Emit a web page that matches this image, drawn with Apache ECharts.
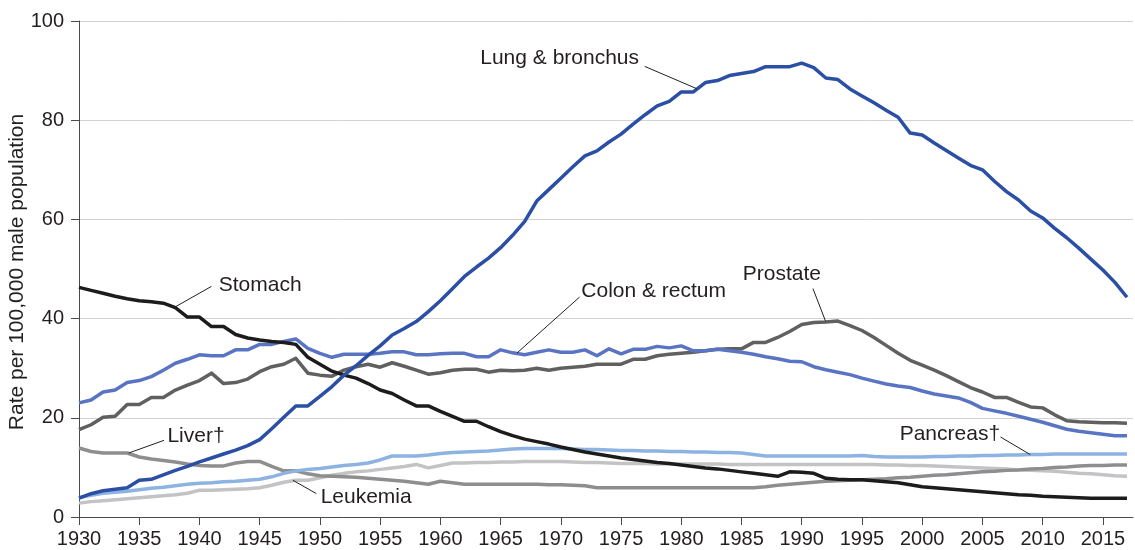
<!DOCTYPE html>
<html>
<head>
<meta charset="utf-8">
<title>Cancer death rates, males</title>
<script src="https://cdn.jsdelivr.net/npm/echarts@6.0.0/dist/echarts.min.js"></script>
<style>
  html, body { margin: 0; padding: 0; background: #fff; }
  #container { width: 1135px; height: 550px; }
</style>
</head>
<body>
<div id="container"></div>
<script>
// years 1930 - 2017
var years = [];
for (var y = 1930; y <= 2017; y++) years.push(y);

var xTicks = [1930, 1935, 1940, 1945, 1950, 1955, 1960, 1965, 1970, 1975, 1980, 1985, 1990, 1995, 2000, 2005, 2010, 2015];
var yTicks = [0, 20, 40, 60, 80, 100];

var lung = [
    3.8, 4.7, 5.3, 5.6, 5.9, 7.4, 7.6, 8.5, 9.4, 10.2,
    11.1, 11.9, 12.7, 13.5, 14.4, 15.6, 17.8, 20.1, 22.4, 22.4,
    24.3, 26.3, 28.6, 30.5, 32.6, 34.5, 36.7, 38.0, 39.4, 41.4,
    43.6, 46.0, 48.5, 50.4, 52.2, 54.3, 56.8, 59.6, 63.7, 66.0,
    68.3, 70.6, 72.8, 73.8, 75.6, 77.2, 79.2, 81.1, 82.9, 83.8,
    85.7, 85.7, 87.6, 88.0, 89.0, 89.4, 89.8, 90.8, 90.8, 90.8,
    91.5, 90.6, 88.5, 88.2, 86.3, 84.9, 83.5, 82.0, 80.6, 77.4,
    77.0, 75.4, 73.9, 72.4, 70.9, 70.0, 67.7, 65.6, 63.9, 61.7,
    60.3, 58.2, 56.3, 54.2, 52.0, 49.8, 47.3, 44.3
];
var stomach = [
    46.3, 45.7, 45.1, 44.5, 44.0, 43.6, 43.4, 43.1, 42.2, 40.3,
    40.3, 38.4, 38.4, 36.8, 36.1, 35.7, 35.4, 35.2, 34.8, 32.2,
    30.8, 29.4, 28.6, 28.0, 26.9, 25.6, 24.9, 23.6, 22.4, 22.4,
    21.3, 20.3, 19.3, 19.3, 18.2, 17.2, 16.4, 15.7, 15.2, 14.7,
    14.1, 13.6, 13.1, 12.7, 12.3, 11.9, 11.6, 11.3, 11.0, 10.8,
    10.5, 10.2, 9.9, 9.7, 9.4, 9.1, 8.8, 8.5, 8.2, 9.1,
    9.0, 8.8, 7.8, 7.6, 7.5, 7.5, 7.3, 7.1, 6.9, 6.5,
    6.1, 5.9, 5.7, 5.5, 5.3, 5.1, 4.9, 4.7, 4.5, 4.4,
    4.2, 4.1, 4.0, 3.9, 3.8, 3.8, 3.8, 3.8
];
var colon = [
    23.0, 23.6, 25.2, 25.6, 27.1, 27.5, 28.3, 29.6, 31.0, 31.8,
    32.7, 32.5, 32.5, 33.7, 33.7, 34.8, 34.8, 35.4, 35.9, 34.0,
    33.0, 32.2, 32.8, 32.8, 32.8, 33.0, 33.3, 33.3, 32.7, 32.7,
    32.9, 33.0, 33.0, 32.3, 32.3, 33.7, 33.1, 32.7, 33.2, 33.7,
    33.2, 33.2, 33.7, 32.5, 33.9, 32.9, 33.8, 33.8, 34.4, 34.1,
    34.5, 33.5, 33.5, 33.8, 33.5, 33.2, 32.8, 32.3, 31.9, 31.4,
    31.3, 30.3, 29.7, 29.2, 28.7, 28.0, 27.4, 26.8, 26.4, 26.1,
    25.4, 24.8, 24.4, 24.0, 23.1, 21.9, 21.4, 20.9, 20.3, 19.7,
    19.1, 18.4, 17.7, 17.3, 17.0, 16.7, 16.4, 16.4
];
var prostate = [
    17.6, 18.6, 20.1, 20.3, 22.7, 22.7, 24.1, 24.1, 25.6, 26.6,
    27.5, 29.0, 26.9, 27.1, 27.8, 29.3, 30.3, 30.8, 32.0, 29.0,
    28.6, 28.4, 29.6, 30.3, 30.8, 30.2, 31.1, 30.4, 29.6, 28.8,
    29.1, 29.6, 29.8, 29.8, 29.2, 29.6, 29.5, 29.6, 30.0, 29.6,
    30.0, 30.2, 30.4, 30.8, 30.8, 30.8, 31.8, 31.8, 32.5, 32.8,
    33.0, 33.2, 33.5, 33.8, 33.9, 33.9, 35.2, 35.2, 36.2, 37.4,
    38.8, 39.2, 39.3, 39.5, 38.6, 37.6, 36.2, 34.6, 33.0, 31.6,
    30.6, 29.6, 28.5, 27.3, 26.1, 25.2, 24.1, 24.1, 23.1, 22.2,
    22.0, 20.6, 19.4, 19.2, 19.1, 19.0, 19.0, 18.9
];
var liver = [
    13.9, 13.2, 12.9, 12.9, 12.9, 12.1, 11.7, 11.4, 11.1, 10.7,
    10.4, 10.3, 10.3, 10.9, 11.2, 11.2, 10.2, 9.3, 9.3, 8.7,
    8.3, 8.2, 8.1, 8.0, 7.8, 7.6, 7.4, 7.2, 6.9, 6.6,
    7.2, 6.9, 6.6, 6.6, 6.6, 6.6, 6.6, 6.6, 6.6, 6.5,
    6.5, 6.4, 6.3, 5.9, 5.9, 5.9, 5.9, 5.9, 5.9, 5.9,
    5.9, 5.9, 5.9, 5.9, 5.9, 5.9, 5.9, 6.1, 6.4, 6.6,
    6.8, 7.0, 7.2, 7.3, 7.4, 7.5, 7.6, 7.7, 7.9, 8.0,
    8.2, 8.4, 8.5, 8.7, 8.9, 9.1, 9.2, 9.4, 9.5, 9.7,
    9.8, 10.0, 10.1, 10.3, 10.4, 10.4, 10.5, 10.5
];
var pancreas = [
    3.9, 4.4, 4.8, 5.0, 5.2, 5.5, 5.8, 6.0, 6.3, 6.6,
    6.8, 6.9, 7.1, 7.2, 7.4, 7.6, 8.1, 8.8, 9.3, 9.6,
    9.8, 10.1, 10.4, 10.6, 10.9, 11.5, 12.3, 12.3, 12.3, 12.5,
    12.8, 13.0, 13.1, 13.2, 13.3, 13.5, 13.7, 13.8, 13.8, 13.8,
    13.8, 13.7, 13.6, 13.6, 13.5, 13.4, 13.4, 13.3, 13.3, 13.2,
    13.2, 13.1, 13.1, 13.0, 13.0, 12.9, 12.6, 12.3, 12.3, 12.3,
    12.3, 12.3, 12.3, 12.3, 12.3, 12.4, 12.2, 12.1, 12.1, 12.1,
    12.1, 12.2, 12.2, 12.3, 12.3, 12.4, 12.4, 12.5, 12.5, 12.6,
    12.6, 12.7, 12.7, 12.7, 12.7, 12.7, 12.7, 12.7
];
var leukemia = [
    2.8, 3.1, 3.3, 3.5, 3.7, 3.9, 4.1, 4.3, 4.5, 4.8,
    5.4, 5.4, 5.5, 5.6, 5.7, 5.9, 6.4, 7.0, 7.4, 7.4,
    7.9, 8.4, 8.8, 9.1, 9.3, 9.6, 9.9, 10.2, 10.6, 9.9,
    10.4, 10.9, 10.9, 11.0, 11.0, 11.1, 11.1, 11.2, 11.2, 11.2,
    11.2, 11.1, 11.0, 11.0, 10.9, 10.8, 10.8, 10.8, 10.7, 10.7,
    10.7, 10.7, 10.7, 10.7, 10.6, 10.6, 10.6, 10.6, 10.6, 10.6,
    10.6, 10.6, 10.6, 10.6, 10.6, 10.6, 10.6, 10.5, 10.5, 10.4,
    10.4, 10.3, 10.2, 10.1, 10.0, 9.9, 9.8, 9.7, 9.5, 9.4,
    9.3, 9.2, 9.0, 8.8, 8.7, 8.5, 8.3, 8.2
];

// labels: text anchor and leader line, in [year, rate]
var notes = [
    { text: 'Lung & bronchus', at: [1969.9, 92.5], align: 'center', from: [1976.96, 90.85], to: [1981.27, 86.37] },
    { text: 'Stomach', at: [1941.6, 46.7], align: 'left', from: [1941.0, 46.5], to: [1937.94, 42.3] },
    { text: 'Colon & rectum', at: [1971.7, 45.5], align: 'left', from: [1971.56, 44.35], to: [1966.36, 33.06] },
    { text: 'Prostate', at: [1985.1, 48.9], align: 'left', from: [1990.93, 46.05], to: [1991.98, 39.46] },
    { text: 'Liver\u2020', at: [1937.34, 16.27], align: 'left', from: [1937.06, 15.46], to: [1934.13, 12.9] },
    { text: 'Leukemia', at: [1950.06, 3.97], align: 'left', from: [1947.76, 7.4], to: [1949.7, 4.72] },
    { text: 'Pancreas\u2020', at: [1998.13, 16.67], align: 'left', from: [2006.5, 16.13], to: [2008.97, 12.58] }
];

var textColor = '#231f20';
var axisColor = '#4a4a4a';
var font = '"Liberation Sans", Arial, Helvetica, sans-serif';

function pairs(vals) {
    var out = [];
    for (var i = 0; i < vals.length; i++) out.push([years[i], vals[i]]);
    return out;
}

function lineSeries(name, vals, color) {
    return {
        name: name,
        type: 'line',
        data: pairs(vals),
        showSymbol: false,
        symbol: 'none',
        lineStyle: { color: color, width: 3.5, join: 'round' },
        emphasis: { disabled: true },
        silent: true
    };
}

var myChart = echarts.init(document.getElementById('container'));
var option = {
    animation: false,
    textStyle: { fontFamily: font },
    grid: { left: 79, right: 2, top: 21, bottom: 33, containLabel: false, outerBoundsMode: 'none' },
    xAxis: {
        type: 'value',
        min: 1930,
        max: 2017.5,
        axisLine: { show: true, lineStyle: { color: axisColor, width: 1 } },
        axisTick: { show: true, length: 8, customValues: xTicks, lineStyle: { color: axisColor } },
        axisLabel: { customValues: xTicks, color: textColor, fontSize: 20, margin: 12, fontFamily: font,
            formatter: function (v) { return String(v); } },
        splitLine: { show: false }
    },
    yAxis: {
        type: 'value',
        min: 0,
        max: 100,
        interval: 20,
        axisLine: { show: true, lineStyle: { color: axisColor, width: 1 } },
        axisTick: { show: true, length: 8, lineStyle: { color: axisColor } },
        axisLabel: { color: textColor, fontSize: 20, margin: 15, fontFamily: font,
            formatter: function (v) { return yTicks.indexOf(v) >= 0 ? String(v) : ''; } },
        splitLine: { show: true, lineStyle: { color: '#d3d3d3', width: 1 } }
    },
    series: [
        lineSeries('Leukemia', leukemia, '#c3c3c6'),
        lineSeries('Liver', liver, '#8e8e8e'),
        lineSeries('Pancreas', pancreas, '#8db3e2'),
        lineSeries('Prostate', prostate, '#606060'),
        lineSeries('Colon & rectum', colon, '#5a74c4'),
        lineSeries('Stomach', stomach, '#1c1c1c'),
        lineSeries('Lung & bronchus', lung, '#2a4fa5')
    ]
};
myChart.setOption(option);

// y axis title, rotated, centred on the plot height
var yTopPx = myChart.convertToPixel({ gridIndex: 0 }, [1930, 100])[1];
var yBotPx = myChart.convertToPixel({ gridIndex: 0 }, [1930, 0])[1];
var graphics = [{
    type: 'text',
    silent: true,
    x: 17,
    y: (yTopPx + yBotPx) / 2 + 3,
    rotation: Math.PI / 2,
    style: {
        text: 'Rate per 100,000 male population',
        fill: textColor,
        font: '21px ' + font,
        align: 'center',
        verticalAlign: 'middle'
    }
}];

// annotation texts and leader lines, placed through the chart's own scales
notes.forEach(function (n) {
    var p = myChart.convertToPixel({ gridIndex: 0 }, n.at);
    var a = myChart.convertToPixel({ gridIndex: 0 }, n.from);
    var b = myChart.convertToPixel({ gridIndex: 0 }, n.to);
    graphics.push({
        type: 'line',
        silent: true,
        shape: { x1: a[0], y1: a[1], x2: b[0], y2: b[1] },
        style: { stroke: '#231f20', lineWidth: 1 },
        z: 100
    });
    graphics.push({
        type: 'text',
        silent: true,
        x: p[0],
        y: p[1],
        style: {
            text: n.text,
            fill: textColor,
            font: '21px ' + font,
            align: n.align,
            verticalAlign: 'middle'
        },
        z: 100
    });
});
myChart.setOption({ graphic: graphics });
</script>
</body>
</html>
